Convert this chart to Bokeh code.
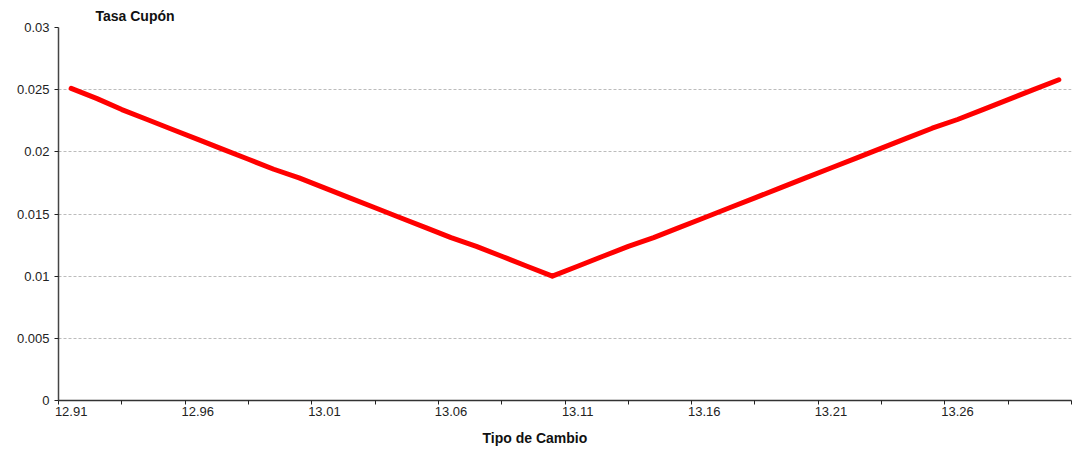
from bokeh.plotting import figure
from bokeh.models import FixedTicker, Range1d, Title
from bokeh.embed import file_html
from bokeh.resources import INLINE

# Data
tipo_cambio = [12.91, 12.92, 12.93, 12.94, 12.95, 12.96, 12.97, 12.98, 12.99, 13.00,
               13.01, 13.02, 13.03, 13.04, 13.05, 13.06, 13.07, 13.08, 13.09, 13.10,
               13.11, 13.12, 13.13, 13.14, 13.15, 13.16, 13.17, 13.18, 13.19, 13.20,
               13.21, 13.22, 13.23, 13.24, 13.25, 13.26, 13.27, 13.28, 13.29, 13.30]
tasa_cupon = [0.0251, 0.0243, 0.0234, 0.0226, 0.0218, 0.0210, 0.0202, 0.0194, 0.0186, 0.0179,
              0.0171, 0.0163, 0.0155, 0.0147, 0.0139, 0.0131, 0.0124, 0.0116, 0.0108, 0.0100,
              0.0108, 0.0116, 0.0124, 0.0131, 0.0139, 0.0147, 0.0155, 0.0163, 0.0171, 0.0179,
              0.0187, 0.0195, 0.0203, 0.0211, 0.0219, 0.0226, 0.0234, 0.0242, 0.0250, 0.0258]

x_label_ticks = [12.91, 12.96, 13.01, 13.06, 13.11, 13.16, 13.21, 13.26]
x_tick_labels = ["12.91", "12.96", "13.01", "13.06", "13.11", "13.16", "13.21", "13.26"]
x_tick_marks = [12.905, 12.93, 12.955, 12.98, 13.005, 13.03, 13.055, 13.08, 13.105,
                13.13, 13.155, 13.18, 13.205, 13.23, 13.255, 13.28, 13.305]
y_ticks = [0, 0.005, 0.01, 0.015, 0.02, 0.025, 0.03]
y_tick_labels = ["0", "0.005", "0.01", "0.015", "0.02", "0.025", "0.03"]

FONT = "Liberation Sans"
TXT = "#222222"
FS = "13px"
TFS = "14px"

p = figure(width=1074, height=455, output_backend="svg", toolbar_location=None,
           x_range=Range1d(12.905, 13.305), y_range=Range1d(0, 0.03),
           min_border_left=58, min_border_right=3, min_border_top=27, min_border_bottom=55)
p.outline_line_color = None
p.background_fill_color = "white"
p.border_fill_color = "white"

p.title = Title(text="Tasa Cupón", align="left", offset=37, standoff=7,
                text_font=FONT, text_font_size=TFS, text_font_style="bold",
                text_color="#111111")

p.add_layout(Title(text="Tipo de Cambio", align="left", offset=424, standoff=19,
                   text_font=FONT, text_font_size=TFS, text_font_style="bold",
                   text_color="#111111"), "below")

# x axis
xa = p.xaxis[0]
xa.ticker = FixedTicker(ticks=x_label_ticks, minor_ticks=x_tick_marks)
xa.major_label_overrides = {t: l for t, l in zip(x_label_ticks, x_tick_labels)}
xa.major_tick_line_color = None
xa.minor_tick_line_color = "#222222"
xa.minor_tick_out = 4
xa.minor_tick_in = 0
xa.axis_line_color = "#333333"
xa.axis_line_width = 1.5
xa.major_label_text_font = FONT
xa.major_label_text_font_size = FS
xa.major_label_text_color = TXT
xa.major_label_standoff = 0

# y axis
ya = p.yaxis[0]
ya.ticker = FixedTicker(ticks=y_ticks, minor_ticks=[])
ya.major_label_overrides = {t: l for t, l in zip(y_ticks, y_tick_labels)}
ya.major_tick_line_color = "#222222"
ya.major_tick_out = 4
ya.major_tick_in = 0
ya.axis_line_color = "#444444"
ya.axis_line_width = 1.5
ya.major_label_text_font = FONT
ya.major_label_text_font_size = FS
ya.major_label_text_color = TXT
ya.major_label_standoff = 5

p.xgrid.grid_line_color = None
p.ygrid.grid_line_color = "#bcbcbc"
p.ygrid.grid_line_dash = "3 2"
p.ygrid.grid_line_width = 1

p.line(tipo_cambio, tasa_cupon, line_color="#ff0000", line_width=5,
       line_join="round", line_cap="round")

open("out.html", "w").write(file_html(p, INLINE))
